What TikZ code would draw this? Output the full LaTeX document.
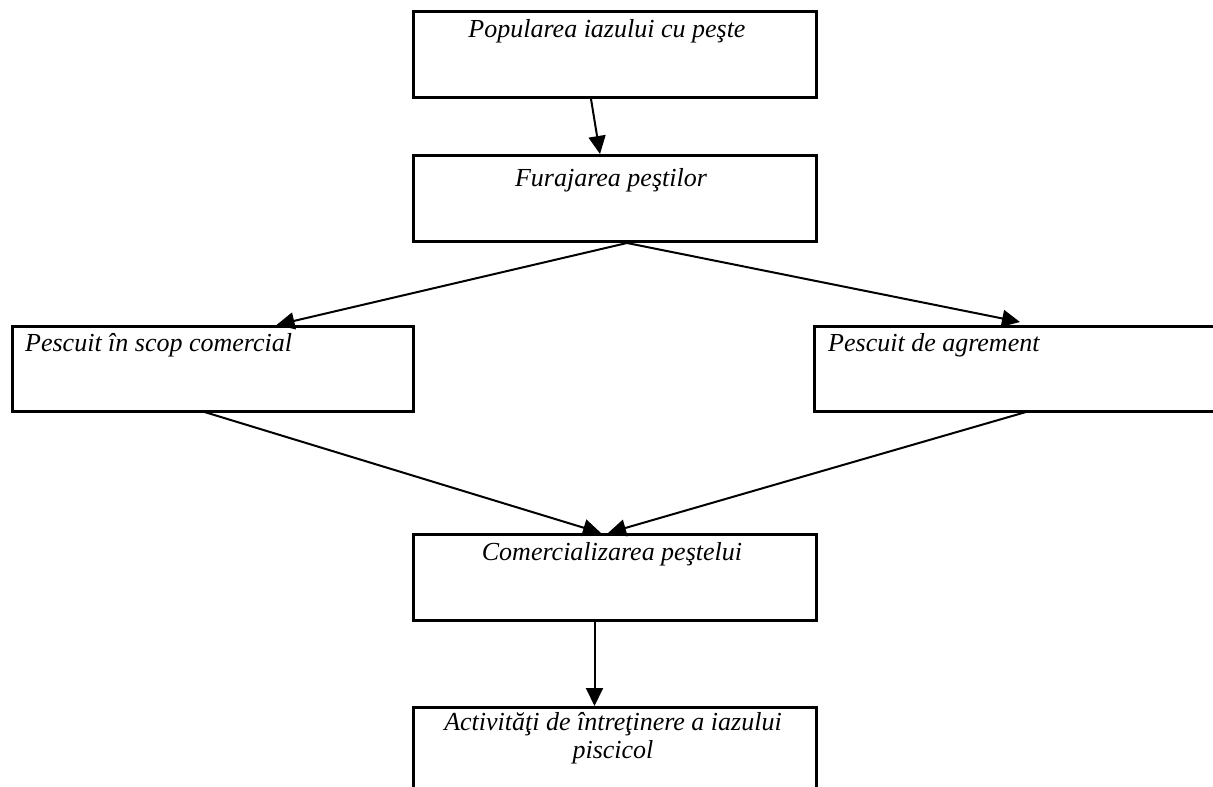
\documentclass[tikz,border=0pt]{standalone}
\usepackage{fontspec}
\setmainfont{Liberation Serif}
\usetikzlibrary{arrows.meta}
\tikzset{
  box/.style={draw=black, line width=3pt, rectangle, inner sep=0pt},
  lbl/.style={inner sep=0pt, font=\fontsize{26}{28}\selectfont\itshape},
  conn/.style={line width=2pt, -{Triangle[length=18pt,width=17pt]}},
}
\begin{document}
\begin{tikzpicture}[x=1pt,y=-1pt]
\useasboundingbox (0,0) rectangle (1213,787);
\clip (0,0) rectangle (1213,787);
\fill[white] (0,0) rectangle (1213,787);
% boxes
\node[box, minimum width=403pt, minimum height=86pt, anchor=north west] (b1) at (412,10) {};
\node[box, minimum width=403pt, minimum height=86pt, anchor=north west] (b2) at (412,154) {};
\node[box, minimum width=401pt, minimum height=85pt, anchor=north west] (b3) at (11,325) {};
\node[box, minimum width=420pt, minimum height=85pt, anchor=north west] (b4) at (813,325) {};
\node[box, minimum width=403pt, minimum height=86pt, anchor=north west] (b5) at (412,533) {};
\node[box, minimum width=403pt, minimum height=100pt, anchor=north west] (b6) at (412,706) {};
% texts
\node[lbl, anchor=base] (t1) at (607,37) {Popularea iazului cu peşte};
\node[lbl, anchor=base] (t2) at (611,186) {Furajarea peştilor};
\node[lbl, anchor=base west] (t3) at (25,351) {Pescuit în scop comercial};
\node[lbl, anchor=base west] (t4) at (828,351) {Pescuit de agrement};
\node[lbl, anchor=base] (t5) at (612,560) {Comercializarea peştelui};
\node[lbl, anchor=base, align=center] (t6) at (613,758) {Activităţi de întreţinere a iazului\\piscicol};
% connectors
\coordinate (a1s) at ([xshift=-24pt]b1.south);
\coordinate (a1e) at ([xshift=-15pt]b2.north);
\coordinate (a2s) at ([xshift=12pt]b2.south);
\coordinate (a2e) at ([xshift=63.5pt]b3.north);
\coordinate (a3e) at ([xshift=-4.5pt,yshift=3pt]b4.north);
\coordinate (a4s) at ([xshift=-8.5pt,yshift=1pt]b3.south);
\coordinate (a4e) at ([xshift=-14pt]b5.north);
\coordinate (a5s) at ([xshift=1.5pt,yshift=1pt]b4.south);
\coordinate (a5e) at ([xshift=-7pt]b5.north);
\coordinate (a6s) at ([xshift=-20.5pt]b5.south);
\coordinate (a6e) at ([xshift=-20.5pt]b6.north);
\draw[conn] (a1s) -- (a1e);
\draw[conn] (a2s) -- (a2e);
\draw[conn] (a2s) -- (a3e);
\draw[conn] (a4s) -- (a4e);
\draw[conn] (a5s) -- (a5e);
\draw[conn] (a6s) -- (a6e);
\end{tikzpicture}
\end{document}
